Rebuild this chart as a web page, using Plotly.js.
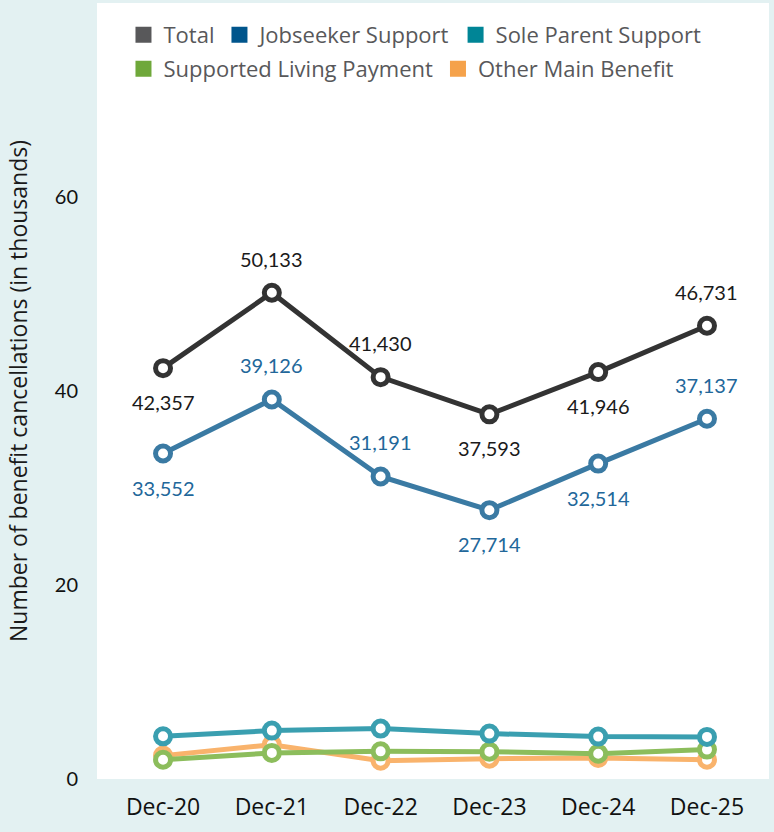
<!DOCTYPE html>
<html>
<head>
<meta charset="utf-8">
<script src="https://cdn.plot.ly/plotly-3.0.1.min.js"></script>
<style>
  html, body { margin: 0; padding: 0; background: #e3f1f2; }
  #chart { width: 774px; height: 832px; }
</style>
</head>
<body>
<div id="chart"></div>
<script>
// ---- data ----
const categories = ['Dec-20', 'Dec-21', 'Dec-22', 'Dec-23', 'Dec-24', 'Dec-25'];
const total = [42357, 50133, 41430, 37593, 41946, 46731];
const jobseeker = [33552, 39126, 31191, 27714, 32514, 37137];
const soleParent = [4400, 4990, 5200, 4680, 4370, 4340];
const supportedLiving = [1990, 2690, 2850, 2820, 2610, 3030];
const otherMain = [2410, 3540, 1890, 2100, 2170, 1990];
const totalLabelPos = ['below', 'above', 'above', 'below', 'below', 'above'];
const jobseekerLabelPos = ['below', 'above', 'above', 'below', 'below', 'above'];
const yTicks = [0, 20, 40, 60];
const seriesNames = ['Total', 'Jobseeker Support', 'Sole Parent Support', 'Supported Living Payment', 'Other Main Benefit'];
const legendRow = { 'Total': 'legend', 'Jobseeker Support': 'legend', 'Sole Parent Support': 'legend',
                    'Supported Living Payment': 'legend2', 'Other Main Benefit': 'legend2' };

// ---- styles ----
const lineColors = {
  'Total': '#333333',
  'Jobseeker Support': '#3a7aa3',
  'Sole Parent Support': '#3a9fb0',
  'Supported Living Payment': '#8cbd5c',
  'Other Main Benefit': '#f9b36c'
};
const legendColors = {
  'Total': '#58585a',
  'Jobseeker Support': '#00558c',
  'Sole Parent Support': '#008596',
  'Supported Living Payment': '#6fa83a',
  'Other Main Benefit': '#f5a24b'
};
const seriesData = {
  'Total': total,
  'Jobseeker Support': jobseeker,
  'Sole Parent Support': soleParent,
  'Supported Living Payment': supportedLiving,
  'Other Main Benefit': otherMain
};

const toK = arr => arr.map(v => v / 1000);
const fmt = v => v.toLocaleString('en-US');

function lineTrace(name) {
  return {
    type: 'scatter', mode: 'lines+markers', name: name,
    x: categories, y: toK(seriesData[name]),
    showlegend: false, hoverinfo: 'skip', cliponaxis: false,
    line: { color: lineColors[name], width: 5 },
    marker: { symbol: 'circle', size: 15, color: '#ffffff',
              line: { color: lineColors[name], width: 5 } }
  };
}

// drawing order: bottom series first
const drawOrder = ['Other Main Benefit', 'Supported Living Payment', 'Sole Parent Support', 'Jobseeker Support', 'Total'];
const traces = drawOrder.map(lineTrace);

// legend-only traces (square swatches)
seriesNames.forEach(name => {
  traces.push({
    type: 'scatter', mode: 'markers', name: name, legend: legendRow[name],
    x: [null], y: [null], showlegend: true, hoverinfo: 'skip',
    marker: { symbol: 'square', size: 16, color: legendColors[name] }
  });
});

// data labels
const annotations = [];
function addLabels(values, pos, color) {
  values.forEach((v, i) => {
    annotations.push({
      x: categories[i], y: v / 1000, xref: 'x', yref: 'y',
      text: fmt(v), showarrow: false,
      yshift: pos[i] === 'above' ? 34 : -34,
      xanchor: 'center', yanchor: 'middle',
      font: { family: 'Lato, sans-serif', size: 20, color: color }
    });
  });
}
addLabels(total, totalLabelPos, '#1a1a1a');
addLabels(jobseeker, jobseekerLabelPos, '#22679a');

const legendFont = { family: 'Open Sans, sans-serif', size: 22, color: '#58585a' };
const layout = {
  width: 774, height: 832,
  margin: { l: 97, r: 5, t: 3, b: 53 },
  paper_bgcolor: '#e3f1f2',
  plot_bgcolor: '#ffffff',
  showlegend: true,
  legend: {
    orientation: 'h', x: 0.0394, y: 0.986, xanchor: 'left', yanchor: 'top',
    bgcolor: 'rgba(0,0,0,0)', borderwidth: 0, traceorder: 'normal',
    font: legendFont, itemclick: false, itemdoubleclick: false
  },
  legend2: {
    orientation: 'h', x: 0.0394, y: 0.942, xanchor: 'left', yanchor: 'top',
    bgcolor: 'rgba(0,0,0,0)', borderwidth: 0, traceorder: 'normal',
    font: legendFont, itemclick: false, itemdoubleclick: false
  },
  xaxis: {
    type: 'category', range: [-0.607, 5.57],
    showgrid: false, zeroline: false, showline: false,
    ticks: 'outside', ticklen: 7, tickcolor: 'rgba(0,0,0,0)',
    tickfont: { family: 'Open Sans, sans-serif', size: 23, color: '#111111' },
    fixedrange: true
  },
  yaxis: {
    range: [0, 80], tickvals: yTicks, ticktext: yTicks.map(String),
    showgrid: false, zeroline: false, showline: false,
    ticks: 'outside', ticklen: 14, tickcolor: 'rgba(0,0,0,0)',
    tickfont: { family: 'Lato, sans-serif', size: 20, color: '#111111' },
    title: { text: 'Number of benefit cancellations (in thousands)', standoff: 20,
             font: { family: 'Open Sans, sans-serif', size: 23, color: '#1a1a1a' } },
    fixedrange: true
  },
  annotations: annotations
};

Plotly.newPlot('chart', traces, layout, { displayModeBar: false, staticPlot: true });
</script>
</body>
</html>
